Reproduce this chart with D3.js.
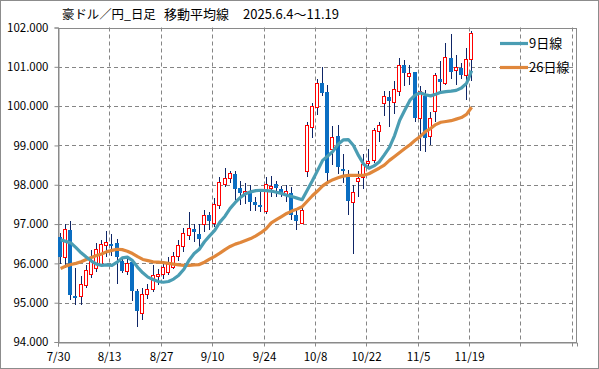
<!DOCTYPE html>
<html><head><meta charset="utf-8">
<script src="https://cdn.jsdelivr.net/npm/d3@7"></script>
<style>
html,body{margin:0;padding:0;background:#fff;}
svg{display:block;}
text{font-family:"Noto Sans CJK JP","Noto Sans",sans-serif;fill:#000;}
</style></head>
<body>
<svg id="chart" width="599" height="369"></svg>
<script>
// ---- data ----
const dates = ["7/30","7/31","8/1","8/4","8/5","8/6","8/7","8/8","8/11","8/12",
"8/13","8/14","8/15","8/18","8/19","8/20","8/21","8/22","8/25","8/26",
"8/27","8/28","8/29","9/1","9/2","9/3","9/4","9/5","9/8","9/9",
"9/10","9/11","9/12","9/15","9/16","9/17","9/18","9/19","9/22","9/23",
"9/24","9/25","9/26","9/29","9/30","10/1","10/2","10/3","10/6","10/7",
"10/8","10/9","10/10","10/13","10/14","10/15","10/16","10/17","10/20","10/21",
"10/22","10/23","10/24","10/27","10/28","10/29","10/30","10/31","11/3","11/4",
"11/5","11/6","11/7","11/10","11/11","11/12","11/13","11/14","11/17","11/18",
"11/19"];
const openP = [96.66,96.16,96.86,95.18,95.16,95.46,95.74,95.87,95.97,96.48,
96.50,96.52,96.05,95.80,96.03,95.30,94.74,95.23,95.36,95.69,
95.72,95.79,95.90,96.19,96.45,96.71,96.87,96.74,97.01,97.22,
97.03,97.48,98.01,98.18,98.28,97.92,97.78,97.82,97.55,97.48,
97.33,97.93,98.03,97.90,97.73,97.78,97.22,97.03,98.34,99.46,
99.97,100.58,100.35,98.90,99.24,98.40,98.24,97.55,98.09,98.20,
98.56,98.62,99.36,100.07,100.23,100.11,100.39,101.04,100.77,100.87,
99.69,100.26,99.24,99.87,100.69,100.60,101.23,100.92,100.98,100.79,
101.19];
const highP = [96.77,97.00,97.08,95.87,95.67,95.95,96.33,96.52,96.59,96.82,
96.75,96.63,96.12,96.10,96.11,95.36,95.38,95.47,95.95,95.85,
96.00,96.15,96.30,96.60,96.90,97.31,97.00,97.01,97.35,97.30,
97.66,98.20,98.42,98.35,98.35,98.10,98.05,98.00,97.70,97.85,
98.20,98.22,98.10,97.98,98.00,97.95,97.35,97.40,99.60,100.09,
100.70,100.99,100.55,99.50,99.52,98.79,98.37,98.00,98.35,98.79,
98.90,99.45,99.60,100.38,100.38,100.65,101.22,101.17,101.05,100.87,
100.50,100.40,99.85,100.83,101.15,101.60,101.83,101.30,101.10,101.48,
101.90];
const lowP = [95.98,95.87,95.06,94.93,94.93,95.38,95.64,95.78,95.91,96.16,
96.20,95.48,95.75,95.70,95.05,94.38,94.55,95.10,95.27,95.45,
95.60,95.70,95.85,96.05,96.30,96.60,96.55,96.42,96.80,96.85,
96.93,97.38,97.95,98.05,97.60,97.48,97.52,97.33,97.32,97.30,
97.26,97.70,97.68,97.70,97.55,97.10,96.85,97.00,98.20,99.20,
99.77,100.25,98.10,98.50,98.28,98.04,97.24,96.25,97.70,97.90,
98.40,98.55,99.10,99.75,99.46,99.80,100.27,100.50,100.55,99.60,
98.85,98.84,99.00,99.60,100.30,100.55,100.70,100.55,100.70,100.15,
100.64];
const closeP = [96.16,96.88,95.20,95.12,95.48,95.82,96.08,96.37,96.50,96.54,
96.47,96.16,95.80,96.01,95.31,94.79,95.23,95.36,95.70,95.74,
95.92,96.00,96.19,96.46,96.76,96.90,96.79,96.62,97.24,97.07,
97.52,98.07,98.16,98.30,97.90,97.79,97.83,97.56,97.48,97.45,
98.03,97.96,97.93,97.78,97.85,97.22,97.07,97.37,99.53,100.00,
100.58,100.34,98.29,99.22,98.45,98.35,97.59,97.82,98.16,98.52,
98.60,99.39,99.51,100.25,100.13,100.43,101.04,100.83,100.83,99.69,
100.38,99.19,99.69,100.79,100.62,101.26,100.87,101.00,100.79,101.21,
101.85];
const ma9 = [96.60,96.56,96.52,96.40,96.27,96.16,96.06,95.98,95.95,95.96,
95.95,96.03,96.14,96.16,96.07,95.90,95.76,95.65,95.59,95.54,
95.52,95.54,95.60,95.70,95.85,96.08,96.25,96.36,96.55,96.70,
96.84,97.05,97.20,97.40,97.55,97.68,97.77,97.82,97.85,97.86,
97.85,97.84,97.81,97.78,97.73,97.70,97.66,97.62,97.86,98.10,
98.36,98.62,98.73,98.85,99.03,99.14,99.15,99.00,98.74,98.52,
98.42,98.48,98.58,98.76,98.95,99.25,99.64,99.90,100.15,100.28,
100.34,100.29,100.26,100.30,100.35,100.37,100.38,100.40,100.46,100.58,
100.90];
const ma26 = [95.87,95.93,95.97,96.00,96.04,96.10,96.15,96.20,96.24,96.30,
96.33,96.36,96.35,96.31,96.25,96.17,96.10,96.07,96.04,96.03,
96.02,96.00,95.98,95.96,95.95,95.95,95.96,95.97,96.03,96.11,
96.18,96.26,96.35,96.43,96.49,96.53,96.58,96.63,96.70,96.78,
96.88,97.03,97.11,97.19,97.27,97.33,97.38,97.44,97.58,97.72,
97.84,97.97,98.06,98.13,98.18,98.22,98.24,98.24,98.24,98.24,
98.28,98.35,98.42,98.50,98.62,98.72,98.82,98.92,99.02,99.13,
99.23,99.35,99.43,99.53,99.59,99.61,99.63,99.67,99.71,99.79,
99.97];
const xTickLabels = ["7/30","8/13","8/27","9/10","9/24","10/8","10/22","11/5","11/19","",""];
const yTicks = [94,95,96,97,98,99,100,101,102];
const seriesNames = ["9日線","26日線"];
const titleParts = ["豪ドル／円_日足","移動平均線","2025.6.4～11.19"];

// ---- layout ----
const svg = d3.select("#chart");
const L = 58, R = 577, T = 27.5, B = 342;
const nSlots = 101;
const x = d3.scaleBand().domain(d3.range(nSlots)).range([L, R]).padding(0);
const step = x.step();
const y = d3.scaleLinear().domain([94, 102]).range([B, T]);
const cx = i => x(i) + step / 2;
const gridColor = "#858585";
const teal = "#4A9DB3", orange = "#E0873B";

// outer border
svg.append("rect").attr("x",0.5).attr("y",0.5).attr("width",598).attr("height",368)
  .attr("fill","#fff").attr("stroke","#8c8c8c");

// grid
const g = svg.append("g");
g.selectAll(".hg").data(yTicks.filter(v => v > 94 && v < 102)).join("line")
  .attr("x1", L).attr("x2", R).attr("y1", d => Math.round(y(d))+0.5).attr("y2", d => Math.round(y(d))+0.5)
  .attr("stroke", gridColor).attr("stroke-dasharray","4,3");
const tickIdx = xTickLabels.map((_, k) => k * 10);
g.selectAll(".vg").data(tickIdx.filter(i => i > 0)).join("line")
  .attr("x1", i => Math.round(x(i))+0.5).attr("x2", i => Math.round(x(i))+0.5).attr("y1", T).attr("y2", B)
  .attr("stroke", gridColor).attr("stroke-dasharray","4,3");

// plot border
svg.append("rect").attr("x", L+0.5).attr("y", Math.round(T)+0.5).attr("width", R-L-1).attr("height", B-Math.round(T))
  .attr("fill","none").attr("stroke","#8a8a8a");

// y axis
const yAxis = d3.axisLeft(y).tickValues(yTicks).tickSize(4).tickPadding(6)
  .tickFormat(d => d3.format(".3f")(d));
const ya = svg.append("g").attr("transform", `translate(${L+0.5},0)`).call(yAxis);
ya.select(".domain").attr("stroke","#8a8a8a");
ya.selectAll(".tick line").attr("stroke","#8a8a8a");
ya.selectAll("text").attr("font-size","11.5px").attr("fill","#000")
  .style("font-family","'Noto Sans CJK JP',sans-serif");

// x axis
const xAxis = d3.axisBottom(x).tickValues(tickIdx).tickSize(4).tickPadding(6)
  .tickFormat((d, k) => xTickLabels[k]);
const xa = svg.append("g").attr("transform", `translate(0,${B+0.5})`).call(xAxis);
xa.select(".domain").attr("stroke","#8a8a8a");
xa.selectAll(".tick").attr("transform", d => `translate(${Math.round(x(d))+0.5},0)`);
xa.selectAll(".tick line").attr("stroke","#8a8a8a");
xa.selectAll("text").attr("font-size","11.5px").attr("fill","#000")
  .style("font-family","'Noto Sans CJK JP',sans-serif");

// candles
const data = dates.map((d, i) => ({i, d, o: openP[i], h: highP[i], l: lowP[i], c: closeP[i]}));
const cg = svg.append("g").attr("shape-rendering","crispEdges");
const px = i => Math.floor(cx(i));
cg.selectAll(".wick").data(data).join("line")
  .attr("x1", d => px(d.i)+0.5).attr("x2", d => px(d.i)+0.5)
  .attr("y1", d => Math.round(y(d.h))).attr("y2", d => Math.round(y(d.l)))
  .attr("stroke","#0E2566").attr("stroke-width",1);
// up candles: hollow red
cg.selectAll(".up").data(data.filter(d => d.c >= d.o)).join("rect")
  .attr("x", d => px(d.i) - 1.5)
  .attr("width", 3)
  .attr("y", d => Math.round(y(d.c)) + 0.5)
  .attr("height", d => Math.max(2, Math.round(y(d.o)) - Math.round(y(d.c))))
  .attr("fill", "#fff").attr("stroke", "#FF0000").attr("stroke-width", 1);
// down candles: solid blue
cg.selectAll(".dn").data(data.filter(d => d.c < d.o)).join("rect")
  .attr("x", d => px(d.i) - 2)
  .attr("width", 4)
  .attr("y", d => Math.round(y(d.o)))
  .attr("height", d => Math.max(2, Math.round(y(d.c)) - Math.round(y(d.o))))
  .attr("fill", "#0A6EC2");

// moving averages
const line = d3.line().x((v, i) => cx(i)).y(v => y(v)).curve(d3.curveLinear);
svg.append("path").datum(ma26).attr("d", line).attr("fill","none")
  .attr("stroke", orange).attr("stroke-width",3.2).attr("stroke-linejoin","round");
svg.append("path").datum(ma9).attr("d", line).attr("fill","none")
  .attr("stroke", teal).attr("stroke-width",3.2).attr("stroke-linejoin","round");

// legend
const leg = svg.append("g");
[[teal, 43.5], [orange, 67.5]].forEach(([col, ly], k) => {
  leg.append("line").attr("x1",500).attr("x2",528).attr("y1",ly).attr("y2",ly)
    .attr("stroke",col).attr("stroke-width",3.2);
  leg.append("text").attr("x",529).attr("y",ly+4.5).attr("font-size","13px").text(seriesNames[k]);
});

// title
const tt = svg.append("text").attr("y",19);
[[62,"12.4px"],[164,"13px"],[243,"13px"]].forEach(([tx, fs], k) =>
  tt.append("tspan").attr("x", tx).attr("font-size", fs).text(titleParts[k]));
</script>
</body></html>
